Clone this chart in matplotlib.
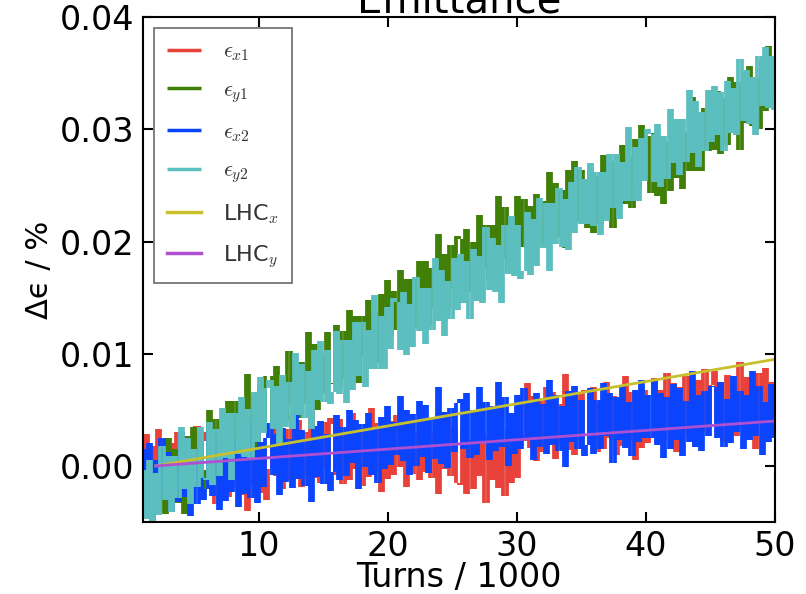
import numpy as np
import matplotlib
matplotlib.use("Agg")
import matplotlib.pyplot as plt
from matplotlib.font_manager import FontProperties

# emittance growth, units of 1e-4, 200 samples over 1..50 kturns
eps_x1 = [
    -22, 28, -30, 18, -26, 33, -14, 24, -38, 20, -18, 30, -25, 16, -32, 27, -20, 36, -16, 22,
    30, -16, 20, -34, 26, -22, 16, -28, 38, -20, 24, -26, 14, -40, 28, -18, 32, -24, 20, -30,
    -3, 49, -9, 37, -21, 33, -13, 45, -5, 41, -19, 30, -7, 57, -11, 35, -15, 39, -1, 43,
    37, -8, 42, -16, 27, -13, 47, -3, 34, -18, 30, -10, 52, -6, 38, -23, 24, -12, 40, -8,
    45, -1, 35, -19, 41, -7, 31, -13, 53, -5, 39, -11, 29, -25, 43, -3, 47, -9, 35, -15,
    -17, 33, -25, 23, -21, 38, -9, 29, -33, 25, -13, 35, -20, 21, -27, 32, -15, 41, -11, 27,
    22, 74, 16, 62, 4, 58, 12, 70, 20, 66, 6, 55, 18, 82, 14, 60, 10, 64, 24, 68,
    65, 20, 70, 12, 55, 15, 75, 25, 62, 10, 58, 18, 80, 22, 66, 5, 52, 16, 68, 20,
    28, 78, 20, 68, 24, 83, 36, 74, 12, 70, 32, 80, 25, 66, 18, 77, 30, 86, 34, 72,
    85, 39, 75, 21, 81, 33, 71, 27, 93, 35, 79, 29, 69, 15, 83, 37, 87, 31, 75, 25,
]
eps_y1 = [
    1, -43, -5, -57, 5, -41, -1, -43, 25, -31, 15, -33, 9, -43, 27, -17, 35, -19, 27, -21,
    -4, 50, -6, 42, -14, 42, -2, 58, 10, 58, 0, 51, 16, 82, 16, 64, 16, 72, 34, 80,
    80, 37, 89, 33, 78, 40, 102, 54, 93, 43, 93, 55, 119, 63, 109, 50, 99, 65, 119, 73,
    74, 126, 70, 120, 78, 139, 94, 134, 74, 134, 98, 148, 95, 138, 92, 153, 108, 166, 116, 156,
    121, 175, 119, 167, 111, 167, 123, 183, 135, 183, 125, 176, 141, 207, 141, 189, 141, 197, 159, 205,
    202, 159, 211, 155, 200, 162, 224, 176, 215, 165, 215, 177, 241, 185, 231, 172, 221, 187, 241, 195,
    238, 194, 232, 180, 242, 196, 236, 194, 262, 206, 252, 204, 246, 194, 264, 220, 272, 218, 264, 216,
    212, 264, 208, 258, 216, 277, 232, 272, 212, 272, 236, 286, 233, 276, 230, 291, 246, 304, 254, 294,
    243, 297, 241, 289, 233, 289, 245, 305, 257, 305, 247, 298, 263, 329, 263, 311, 263, 319, 281, 327,
    282, 334, 278, 328, 286, 347, 302, 342, 282, 342, 306, 356, 303, 346, 300, 361, 316, 374, 324, 364,
]
eps_x2 = [
    15, -30, 20, -38, 5, -35, 25, -25, 12, -40, 8, -32, 30, -28, 16, -45, 2, -34, 18, -30,
    -21, 31, -27, 19, -39, 15, -31, 27, -23, 23, -37, 12, -25, 39, -29, 17, -33, 21, -19, 25,
    38, -8, 28, -26, 34, -14, 24, -20, 46, -12, 32, -18, 22, -32, 36, -10, 40, -16, 28, -22,
    -5, 45, -13, 35, -9, 50, 3, 41, -21, 37, -1, 47, -8, 33, -15, 44, -3, 53, 1, 39,
    10, 62, 4, 50, -8, 46, 0, 58, 8, 54, -6, 43, 6, 70, 2, 48, -2, 52, 12, 56,
    60, 15, 65, 7, 50, 10, 70, 20, 57, 5, 53, 13, 75, 17, 61, 0, 47, 11, 63, 15,
    69, 23, 59, 5, 65, 17, 55, 11, 77, 19, 63, 13, 53, -1, 67, 21, 71, 15, 59, 9,
    19, 69, 11, 59, 15, 74, 27, 65, 3, 61, 23, 71, 16, 57, 9, 68, 21, 77, 25, 63,
    25, 77, 19, 65, 7, 61, 15, 73, 23, 69, 9, 58, 21, 85, 17, 63, 13, 67, 27, 71,
    70, 25, 75, 17, 60, 20, 80, 30, 67, 15, 63, 23, 85, 27, 71, 10, 57, 21, 73, 25,
]
eps_y2 = [
    -4, -47, 5, -51, -6, -44, 18, -30, 9, -41, 9, -29, 35, -21, 25, -34, 15, -19, 35, -11,
    -13, 39, -17, 33, -9, 52, 7, 47, -13, 47, 11, 61, 8, 51, 5, 66, 21, 79, 29, 69,
    77, 33, 71, 19, 81, 35, 75, 33, 101, 45, 91, 43, 85, 33, 103, 59, 111, 57, 103, 55,
    66, 120, 64, 112, 56, 112, 68, 128, 80, 128, 70, 121, 86, 152, 86, 134, 86, 142, 104, 150,
    146, 103, 155, 99, 144, 106, 168, 120, 159, 109, 159, 121, 185, 129, 175, 116, 165, 131, 185, 139,
    189, 145, 183, 131, 193, 147, 187, 145, 213, 157, 203, 155, 197, 145, 215, 171, 223, 169, 215, 167,
    174, 226, 170, 220, 178, 239, 194, 234, 174, 234, 198, 248, 195, 238, 192, 253, 208, 266, 216, 256,
    216, 270, 214, 262, 206, 262, 218, 278, 230, 278, 220, 271, 236, 302, 236, 284, 236, 292, 254, 300,
    296, 253, 305, 249, 294, 256, 318, 270, 309, 259, 309, 271, 335, 279, 325, 266, 315, 281, 335, 289,
    339, 295, 333, 281, 343, 297, 337, 295, 363, 307, 353, 305, 347, 295, 365, 321, 373, 319, 365, 317,
]
lhc_turns = [2, 50]
lhc_x = [0.0, 0.0095]
lhc_y = [0.0, 0.0040]

turns = np.linspace(1, 50, len(eps_x1))


def noisy(ax, vals, color, label):
    # dense noisy trace: each step between samples drawn as a vertical stroke
    v = np.array(vals) * 1e-4
    xm = 0.5 * (turns[1:] + turns[:-1])
    ax.vlines(xm, np.minimum(v[1:], v[:-1]), np.maximum(v[1:], v[:-1]),
              color=color, lw=2.7, label=label)


fig = plt.figure(figsize=(8.06, 5.94), dpi=100)
ax = fig.add_axes([0.1774, 0.1212, 0.784, 0.850])

noisy(ax, eps_x1, '#e8413a', r'$\epsilon_{x1}$')
noisy(ax, eps_y1, '#3f7f06', r'$\epsilon_{y1}$')
noisy(ax, eps_x2, '#0a44ff', r'$\epsilon_{x2}$')
noisy(ax, eps_y2, '#5cbfbf', r'$\epsilon_{y2}$')
ax.plot(lhc_turns, lhc_x, color='#c8c02c', lw=2, label=r'LHC$_x$')
ax.plot(lhc_turns, lhc_y, color='#b04fd0', lw=2, label=r'LHC$_y$')

ax.set_xlim(1, 50)
ax.set_ylim(-0.005, 0.04)
ax.set_xticks([10, 20, 30, 40, 50])
ax.set_yticks([0.0, 0.01, 0.02, 0.03, 0.04])
ax.set_yticklabels(['0.00', '0.01', '0.02', '0.03', '0.04'])
ax.tick_params(direction='in', length=7, width=1.5, labelsize=24, top=True, right=True, pad=6)
for s in ax.spines.values():
    s.set_linewidth(1.5)

ax.set_xlabel('Turns / 1000', fontsize=24, labelpad=-2)
ax.set_ylabel('\u0394\u03f5 / %', fontsize=22, labelpad=4)
ax.set_title('Emittance', fontsize=29, pad=3)

leg = ax.legend(loc='upper left', prop=FontProperties(size=16, math_fontfamily='cm'),
                fancybox=False, edgecolor='#444444', labelspacing=0.76,
                handlelength=1.5, borderpad=0.6, handletextpad=1.0)
leg.get_frame().set_linewidth(1.2)
for h in leg.legend_handles:
    h.set_linewidth(2.5)
for t in leg.get_texts():
    t.set_color('#333333')

fig.savefig('out.png', dpi=100)
